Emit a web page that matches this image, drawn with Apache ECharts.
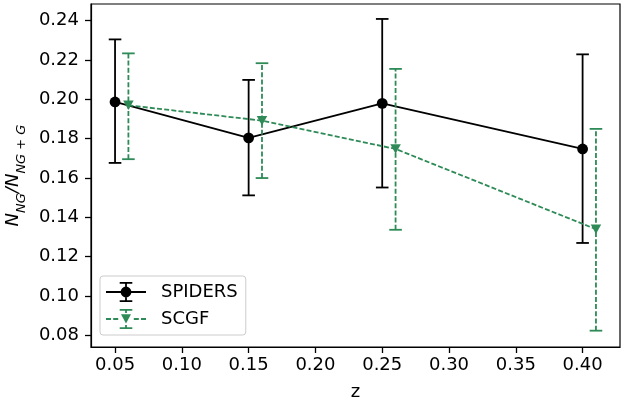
<!DOCTYPE html>
<html>
<head>
<meta charset="utf-8">
<script src="https://cdn.jsdelivr.net/npm/echarts@6/dist/echarts.min.js"></script>
<style>html,body{margin:0;padding:0;background:#fff;}#c{width:633px;height:403px;}</style>
</head>
<body>
<div id="c"></div>
<script>
// ---- data ----
const spidersZ = [0.05, 0.15, 0.25, 0.40];
const spidersF = [0.1987, 0.1804, 0.1980, 0.1748];
const spidersLo = [0.1677, 0.1512, 0.1552, 0.1270];
const spidersHi = [0.2305, 0.2099, 0.2409, 0.2229];

const scgfZ = [0.06, 0.16, 0.26, 0.41];
const scgfF = [0.1970, 0.1892, 0.1748, 0.1340];
const scgfLo = [0.1696, 0.1600, 0.1337, 0.0824];
const scgfHi = [0.2234, 0.2184, 0.2155, 0.1850];

const xTicks = [0.05, 0.10, 0.15, 0.20, 0.25, 0.30, 0.35, 0.40];
const yTicks = [0.08, 0.10, 0.12, 0.14, 0.16, 0.18, 0.20, 0.22, 0.24];

const GREEN = '#2e8b57';
const FONT = 'DejaVu Sans';

function pts(xs, ys) { return xs.map((x, i) => [x, ys[i]]); }
function errData(xs, lo, hi) { return xs.map((x, i) => [x, lo[i], hi[i]]); }

function errRender(color, dash) {
  return function (params, api) {
    const x = api.value(0), lo = api.value(1), hi = api.value(2);
    const a = api.coord([x, lo]), b = api.coord([x, hi]);
    const w = 6.3;
    const st = { stroke: color, lineWidth: 1.8, lineDash: dash };
    const st2 = { stroke: color, lineWidth: 1.8 };
    return {
      type: 'group',
      children: [
        { type: 'line', shape: { x1: a[0], y1: a[1], x2: b[0], y2: b[1] }, style: st },
        { type: 'line', shape: { x1: a[0] - w, y1: a[1], x2: a[0] + w, y2: a[1] }, style: st2 },
        { type: 'line', shape: { x1: b[0] - w, y1: b[1], x2: b[0] + w, y2: b[1] }, style: st2 }
      ]
    };
  };
}

const iconSpiders = 'path://M0 9.1H40V10.9H0Z M19.1 0H20.9V20H19.1Z M13.7 0H26.3V1.8H13.7Z M13.7 18.2H26.3V20H13.7Z M25.4 10A5.4 5.4 0 1 1 14.6 10A5.4 5.4 0 1 1 25.4 10Z';
const iconScgf = 'path://M0 9.1H5V10.9H0Z M7.2 9.1H12.2V10.9H7.2Z M27.8 9.1H32.8V10.9H27.8Z M35 9.1H40V10.9H35Z M19.1 0H20.9V4H19.1Z M19.1 16H20.9V20H19.1Z M13.7 0H26.3V1.8H13.7Z M13.7 18.2H26.3V20H13.7Z M15 5.3H25L20 14.6Z';

const chart = echarts.init(document.getElementById('c'), null, { renderer: 'canvas' });
chart.setOption({
  animation: false,
  backgroundColor: '#fff',
  textStyle: { fontFamily: FONT },
  grid: { left: 91, right: 13, top: 4, bottom: 56, containLabel: false, outerBoundsMode: 'none', show: true, borderColor: '#000', borderWidth: 1.2, backgroundColor: 'transparent' },
  xAxis: {
    type: 'value', min: 0.032, max: 0.428,
    name: 'z', nameLocation: 'middle', nameGap: 36,
    nameTextStyle: { fontSize: 18, color: '#000', fontFamily: FONT },
    splitLine: { show: false },
    axisLine: { show: true, onZero: false, lineStyle: { color: '#000', width: 1.2 } },
    axisTick: { show: true, inside: false, length: 6, lineStyle: { color: '#000', width: 1.3 }, customValues: xTicks },
    axisLabel: { fontSize: 18, color: '#000', margin: 9, fontFamily: FONT, customValues: xTicks, formatter: v => v.toFixed(2) }
  },
  yAxis: {
    type: 'value', min: 0.0741, max: 0.2485,
    name: '{n|N}{s|NG}{n|/N}{s|NG + G}', nameLocation: 'middle', nameGap: 53, nameRotate: 90,
    nameTextStyle: {
      color: '#000',
      rich: {
        n: { fontSize: 18, fontStyle: 'italic', fontFamily: FONT, color: '#000', lineHeight: 30, verticalAlign: 'middle' },
        s: { fontSize: 13, fontStyle: 'italic', fontFamily: FONT, color: '#000', lineHeight: 30, verticalAlign: 'bottom' }
      }
    },
    splitLine: { show: false },
    axisLine: { show: true, onZero: false, lineStyle: { color: '#000', width: 1.2 } },
    axisTick: { show: true, inside: false, length: 6, lineStyle: { color: '#000', width: 1.3 }, customValues: yTicks },
    axisLabel: { fontSize: 18, color: '#000', margin: 12, fontFamily: FONT, customValues: yTicks, formatter: v => v.toFixed(2) }
  },
  legend: {
    left: 100, top: 276, orient: 'vertical',
    data: [{ name: 'SPIDERS', icon: iconSpiders }, { name: 'SCGF', icon: iconScgf }],
    itemWidth: 40, itemHeight: 20, itemGap: 7,
    padding: [6, 8, 6, 6],
    borderColor: '#cccccc', borderWidth: 1, borderRadius: 3,
    backgroundColor: 'rgba(255,255,255,0.8)',
    textStyle: { fontSize: 18, color: '#000', fontFamily: FONT, lineHeight: 20, padding: [0, 0, 0, 10] },
    selectedMode: false
  },
  series: [
    { name: 'SPIDERS-err', type: 'custom', z: 2, data: errData(spidersZ, spidersLo, spidersHi), encode: { x: 0, y: [1, 2] }, renderItem: errRender('#000', null) },
    { name: 'SPIDERS', type: 'line', z: 3, data: pts(spidersZ, spidersF), symbol: 'circle', symbolSize: 10.8, lineStyle: { color: '#000', width: 1.8 }, itemStyle: { color: '#000' } },
    { name: 'SCGF-err', type: 'custom', z: 4, data: errData(scgfZ, scgfLo, scgfHi), encode: { x: 0, y: [1, 2] }, renderItem: errRender(GREEN, [5, 2.2]) },
    { name: 'SCGF', type: 'line', z: 5, data: pts(scgfZ, scgfF), symbol: 'triangle', symbolRotate: 180, symbolSize: [10.5, 9.5], lineStyle: { color: GREEN, width: 1.8, type: [5, 2.2] }, itemStyle: { color: GREEN } }
  ]
});
</script>
</body>
</html>
